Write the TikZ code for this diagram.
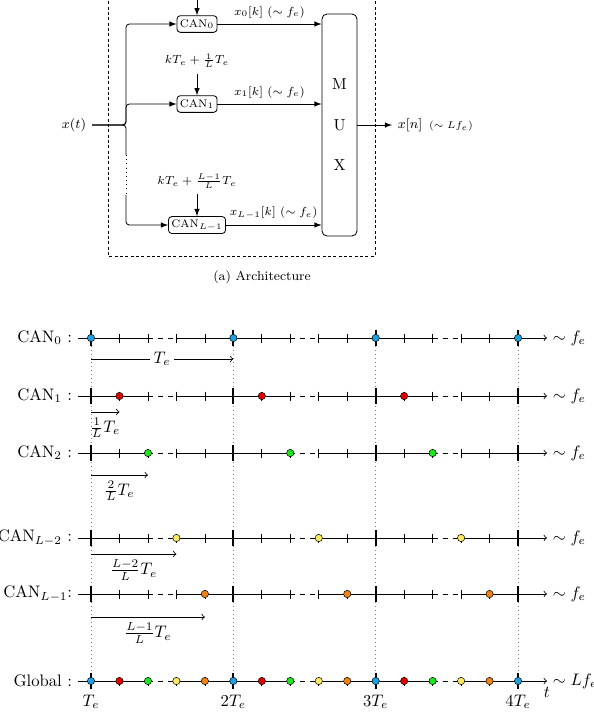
\documentclass[tikz,border=0pt]{standalone}
\usepackage{amsmath,amssymb}
\usepackage{xcolor}
\usetikzlibrary{arrows,positioning,shapes,calc}

\definecolor{canblue}{RGB}{27,161,226}
\definecolor{canred}{RGB}{225,0,0}
\definecolor{cangreen}{RGB}{30,230,30}
\definecolor{canyellow}{RGB}{250,232,100}
\definecolor{canorange}{RGB}{240,130,20}

\newcommand{\tstep}{28.47}
\newcommand{\archfont}{\fontsize{8.3}{10}\selectfont}
\newcommand{\smallarch}{\fontsize{6.6}{8}\selectfont}

\tikzset{
    can/.style = {draw, rounded corners = 2pt, inner sep = 1.8pt, minimum height = 10pt, font = \smallarch},
    lbl/.style = {font = \smallarch},
    samp/.style = {circle, draw, inner sep = 0pt, minimum size = 4.4pt, line width = .3pt}
}

\begin{document}
\begin{tikzpicture}[x = .6pt, y = -.6pt, line width = .5pt]
    \useasboundingbox (0,0) rectangle (594,722);

    % architecture
    \draw[dash pattern = on 1.8pt off 1.4pt] (108,-20) rectangle (375,256);
    \node[font = \archfont] (xt) at (74,125) {$x(t)$};
    \node[can] (can0) at (197,24) {CAN$_0$};
    \node[can] (can1) at (197,104) {CAN$_1$};
    \node[can] (canL) at (197,225) {CAN$_{L-1}$};
    \node[lbl, above = 13pt of can1] (clk1) {$kT_e + \frac{1}{L}T_e$};
    \node[lbl, above = 13pt of canL] (clkL) {$kT_e + \frac{L-1}{L}T_e$};
    \coordinate (clk0) at (197,-12);
    \draw[-latex] (clk0) -- (can0);
    \draw[-latex] (clk1) -- (can1);
    \draw[-latex] (clkL) -- (canL);

    \coordinate (split) at (126,125);
    \draw[rounded corners = 2pt, -latex] (xt.east) -- (split) |- (can0.west);
    \draw[rounded corners = 2pt, -latex] (xt.east) -- (split) |- (can1.west);
    \draw[rounded corners = 2pt] (xt.east) -- (split) -- (126,155);
    \draw[dotted] (126,155) -- (126,195);
    \draw[rounded corners = 2pt, -latex] (126,195) |- (canL.west);

    \node[draw, rounded corners = 3pt, minimum width = 21pt, minimum height = 133.2pt, align = center, font = \fontsize{9.6}{11}\selectfont] (mux) at (339.5,125) {M\\[13.3pt]U\\[13.3pt]X};
    \draw[-latex] (can0) -- node[lbl, above] {$x_0[k]~(\sim f_e)$} (can0 -| mux.west);
    \draw[-latex] (can1) -- node[lbl, above] {$x_1[k]~(\sim f_e)$} (can1 -| mux.west);
    \draw[-latex] (canL) -- node[lbl, above] {$x_{L-1}[k]~(\sim f_e)$} (canL -| mux.west);

    \node[anchor = west, font = \archfont] (xn) at (392,125) {$x[n]$\hspace{4pt}{\fontsize{6.2}{7}\selectfont$(\sim Lf_e)$}};
    \draw[-latex] (mux.east) -- (mux.east -| xn.west);

    \node[font = \fontsize{7.8}{9}\selectfont] (caption) at (262,277) {(a) Architecture};

    % chronogrammes
    \foreach \k in {0,5,10,15}
        \draw[dotted, gray, line width = .4pt] ({91+\k*\tstep},338) -- ({91+\k*\tstep},681);

    \foreach \y/\lab/\rt [count = \r] in {338/{$\mathrm{CAN}_0$ :}/{$\sim f_e$}, 396/{$\mathrm{CAN}_1$ :}/{$\sim f_e$}, 453/{$\mathrm{CAN}_2$ :}/{$\sim f_e$}, 538/{$\mathrm{CAN}_{L-2}$ :}/{$\sim f_e$}, 594/{$\mathrm{CAN}_{L-1}$:}/{$\sim f_e$}, 681/{Global :}/{$\sim Lf_e$}} {
        \draw (78,\y) node[left] (row\r) {\lab} -- ({91+2*\tstep},\y) ({91+3*\tstep},\y) -- ({91+7*\tstep},\y) ({91+8*\tstep},\y) -- ({91+12*\tstep},\y);
        \draw[dashed] ({91+2*\tstep},\y) -- ({91+3*\tstep},\y) ({91+7*\tstep},\y) -- ({91+8*\tstep},\y) ({91+12*\tstep},\y) -- ({91+13*\tstep},\y);
        \draw[->] ({91+13*\tstep},\y) -- (547,\y) node[right] (end\r) {\rt};
        \foreach \k in {1,2,3,4,6,7,8,9,11,12,13,14}
            \draw[line width = .4pt] ({91+\k*\tstep},{\y-4.5}) -- ({91+\k*\tstep},{\y+4.5});
        \foreach \k in {0,5,10,15}
            \draw[line width = 1.1pt] ({91+\k*\tstep},{\y-8}) -- ({91+\k*\tstep},{\y+8});
    }

    % decalages
    \draw[->] (91,359) -- node[fill = white, inner sep = 2pt] (shift0) {$T_e$} ({91+5*\tstep},359);
    \foreach \i/\y/\fr in {1/412/{\frac{1}{L}}, 2/475/{\frac{2}{L}}, 3/554/{\frac{L-2}{L}}, 4/617/{\frac{L-1}{L}}}
        \draw[->] (91,\y) -- node[below] (shift\i) {$\fr T_e$} ({91+\i*\tstep},\y);

    % echantillons
    \foreach \i/\y/\col in {0/338/canblue, 1/396/canred, 2/453/cangreen, 3/538/canyellow, 4/594/canorange} {
        \foreach \p in {0,5,10} {
            \node[samp, fill = \col] (s\i-\p) at ({91+(\i+\p)*\tstep},\y) {};
            \node[samp, fill = \col] (g\i-\p) at ({91+(\i+\p)*\tstep},681) {};
        }
    }
    \node[samp, fill = canblue] (s0-15) at ({91+15*\tstep},338) {};
    \node[samp, fill = canblue] (g0-15) at ({91+15*\tstep},681) {};

    \foreach \k/\t in {0/T_e, 5/2T_e, 10/3T_e, 15/4T_e}
        \node[below] (tt\k) at ({91+\k*\tstep},689) {$\t$};
    \node[below] (tvar) at (547,681) {$t$};
\end{tikzpicture}
\end{document}
